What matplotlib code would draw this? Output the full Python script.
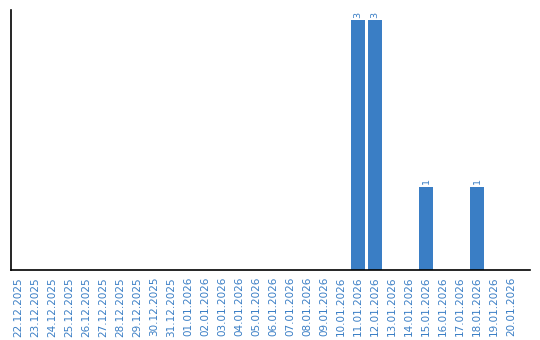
import matplotlib
matplotlib.use("Agg")
import matplotlib.pyplot as plt

dates = ["22.12.2025", "23.12.2025", "24.12.2025", "25.12.2025", "26.12.2025",
         "27.12.2025", "28.12.2025", "29.12.2025", "30.12.2025", "31.12.2025",
         "01.01.2026", "02.01.2026", "03.01.2026", "04.01.2026", "05.01.2026",
         "06.01.2026", "07.01.2026", "08.01.2026", "09.01.2026", "10.01.2026",
         "11.01.2026", "12.01.2026", "13.01.2026", "14.01.2026", "15.01.2026",
         "16.01.2026", "17.01.2026", "18.01.2026", "19.01.2026", "20.01.2026"]
counts = [0, 0, 0, 0, 0, 0, 0, 0, 0, 0,
          0, 0, 0, 0, 0, 0, 0, 0, 0, 0,
          3, 3, 0, 0, 1, 0, 0, 1, 0, 0]

blue = "#3A7EC5"
fig = plt.figure(figsize=(5.4, 3.4), dpi=100)
ax = fig.add_axes([11/540, 70/340, 519/540, 260/340])
x = list(range(len(dates)))
ax.bar(x, counts, width=0.82, color=blue)
for xi, v in zip(x, counts):
    if v > 0:
        ax.text(xi, v + 0.03, str(v), rotation=90, ha="center", va="bottom",
                fontsize=6.8, color=blue)
ax.set_xlim(-0.41, 30.1)
ax.set_ylim(0, 3.12)
ax.set_xticks(x)
ax.set_xticklabels(dates, rotation=90, fontsize=7.5, color=blue)
ax.tick_params(axis="x", length=0, pad=5)
ax.set_yticks([])
for s in ["top", "right"]:
    ax.spines[s].set_visible(False)
for s in ["left", "bottom"]:
    ax.spines[s].set_linewidth(1.2)
fig.savefig("out.png", dpi=100)
